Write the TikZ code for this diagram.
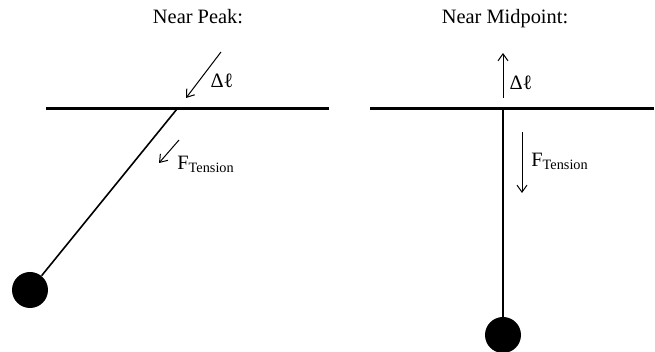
\documentclass[tikz,border=0pt]{standalone}
\usepackage{fontspec}
\setmainfont{Liberation Serif}
\usetikzlibrary{arrows.meta}
\tikzset{
	bob/.style={circle, fill=black, inner sep=0pt, minimum size=18pt},
	ceiling/.style={line width=1.5pt},
	rod/.style={line width=0.8pt},
	vec/.style={line width=0.5pt, -{Straight Barb[length=3.5pt, width=5pt]}},
	lbl/.style={inner sep=0pt}
}
\begin{document}
\begin{tikzpicture}[x=0.5pt, y=-0.5pt, line join=round, font=\fontsize{10.2}{12}\selectfont]
	\useasboundingbox (0,0) rectangle (655,352);
	% Titles
	\node[lbl, anchor=base] (titlePeak) at (198,24) {Near Peak:};
	\node[lbl, anchor=base] (titleMid) at (505,24) {Near Midpoint:};
	% Ceilings
	\draw[ceiling] (46,109) -- (329,109);
	\draw[ceiling] (370,109) -- (654,109);
	% Pivots and bobs
	\coordinate (pivPeak) at (177,109);
	\coordinate (pivMid) at (503,109);
	\node[bob] (bobPeak) at (30,290) {};
	\node[bob] (bobMid) at (503,335) {};
	\draw[rod] (pivPeak) -- (bobPeak);
	\draw[rod] (pivMid) -- (bobMid);
	% Delta l arrows
	\coordinate (dlPeakTail) at (221,52);
	\coordinate (dlPeakHead) at (186,98);
	\draw[vec] (dlPeakTail) -- (dlPeakHead);
	\node[lbl] (dlPeak) at (222,81) {Δℓ};
	\coordinate (dlMidTail) at (503,98);
	\coordinate (dlMidHead) at (503,53);
	\draw[vec] (dlMidTail) -- (dlMidHead);
	\node[lbl] (dlMid) at (521,83) {Δℓ};
	% Tension arrows
	\coordinate (tPeakTail) at (179,140);
	\coordinate (tPeakHead) at (159,163);
	\draw[vec] (tPeakTail) -- (tPeakHead);
	\node[lbl, anchor=base west] (tPeak) at (177,170) {F\textsubscript{Tension}};
	\coordinate (tMidTail) at (522,132);
	\coordinate (tMidHead) at (522,193);
	\draw[vec] (tMidTail) -- (tMidHead);
	\node[lbl, anchor=base west] (tMid) at (531,167) {F\textsubscript{Tension}};
\end{tikzpicture}
\end{document}
